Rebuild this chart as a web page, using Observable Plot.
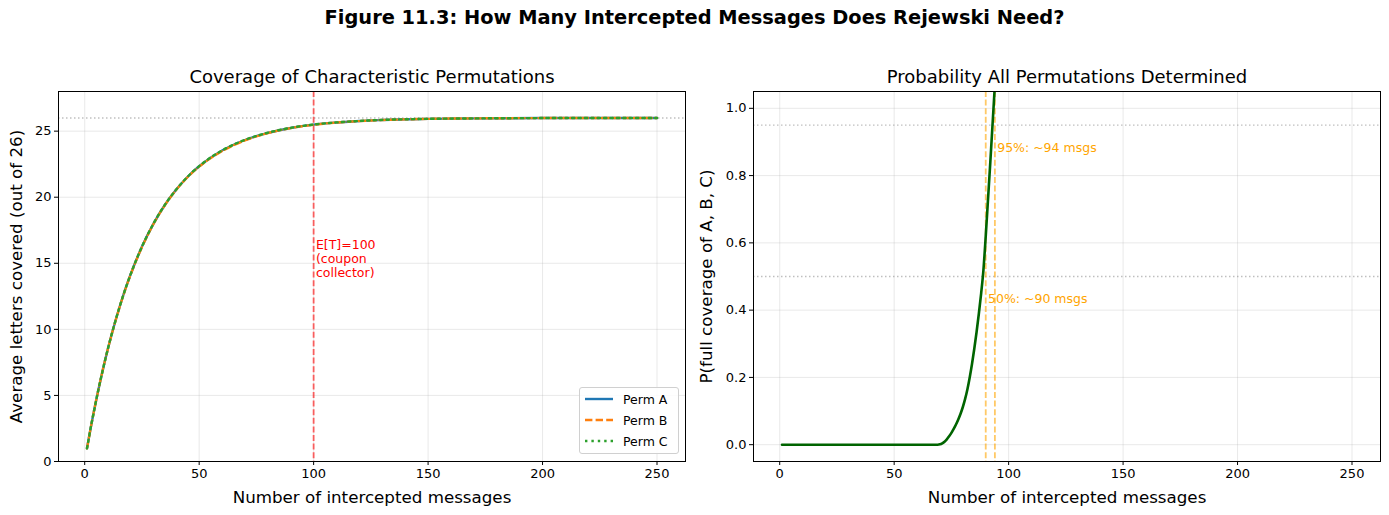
<!DOCTYPE html>
<html>
<head>
<meta charset="utf-8">
<script src="https://cdn.jsdelivr.net/npm/d3@7"></script>
<script src="https://cdn.jsdelivr.net/npm/@observablehq/plot@0.6"></script>
<style>
  html, body { margin: 0; padding: 0; background: white; }
  body { width: 1389px; height: 515px; position: relative; overflow: hidden; font-family: "DejaVu Sans", sans-serif; }
  .abs { position: absolute; }
  #suptitle { left: 0; width: 1389px; top: 6px; text-align: center; font-weight: bold; font-size: 19.4px; line-height: 24px; color: #000; z-index: 5; }
  #legend { left: 579px; top: 387px; width: 98px; height: 65px; border: 1px solid #d0d0d0; border-radius: 3px; background: rgba(255,255,255,0.85); font-size: 12.5px; z-index: 5; color: #000; }
  #legend .row { position: absolute; left: 4px; height: 16px; display: flex; align-items: center; }
  #legend .row span { margin-left: 9px; }
</style>
</head>
<body>
<div id="left" class="abs" style="left:0;top:0"></div>
<div id="right" class="abs" style="left:695px;top:0"></div>
<div id="suptitle" class="abs">Figure 11.3: How Many Intercepted Messages Does Rejewski Need?</div>
<div id="legend" class="abs"></div>
<script>
// ---- data ----
const msgs  = [1, 2, 3, 4, 5, 6, 8, 10, 12, 15, 18, 20, 25, 30, 35, 40, 45, 50, 60, 70, 80, 90, 100, 110, 120, 130, 140, 150, 175, 200, 225, 250];
const permA = [1.00, 1.96, 2.89, 3.77, 4.63, 5.45, 7.00, 8.44, 9.76, 11.56, 13.17, 14.13, 16.25, 17.98, 19.41, 20.58, 21.55, 22.34, 23.53, 24.33, 24.87, 25.24, 25.49, 25.65, 25.77, 25.84, 25.89, 25.93, 25.97, 25.99, 26.00, 26.00];
const permB = [1.00, 1.95, 2.88, 3.78, 4.62, 5.44, 7.01, 8.43, 9.75, 11.55, 13.16, 14.12, 16.22, 17.96, 19.39, 20.56, 21.53, 22.31, 23.49, 24.30, 24.85, 25.23, 25.48, 25.65, 25.76, 25.84, 25.89, 25.93, 25.97, 25.99, 26.00, 26.00];
const permC = [1.00, 1.96, 2.89, 3.77, 4.63, 5.46, 7.00, 8.45, 9.77, 11.57, 13.18, 14.14, 16.26, 17.99, 19.42, 20.59, 21.56, 22.35, 23.54, 24.34, 24.88, 25.25, 25.50, 25.66, 25.77, 25.85, 25.90, 25.93, 25.97, 25.99, 26.00, 26.00];
const permNames = ["Perm A", "Perm B", "Perm C"];

const probMsgs = [1, 10, 20, 30, 40, 50, 60, 69, 70, 71, 72, 73, 74, 75, 76, 77, 78, 79, 80, 81, 82, 83, 84, 85, 86, 87, 88, 89, 90, 91, 92, 93, 94, 95, 96];
const probAll  = [0, 0, 0, 0, 0, 0, 0, 0, 0.001, 0.004, 0.009, 0.016, 0.025, 0.035, 0.047, 0.060, 0.075, 0.092, 0.112, 0.136, 0.165, 0.200, 0.240, 0.285, 0.335, 0.390, 0.450, 0.520, 0.620, 0.730, 0.840, 0.955, 1.070, 1.190, 1.310];

const expectedT = 100;
const p50 = 90, p95 = 94;
const xTicks = [0, 50, 100, 150, 200, 250];
const yTicksLeft = [0, 5, 10, 15, 20, 25];
const yTicksRight = [0, 0.2, 0.4, 0.6, 0.8, 1.0];

// ---- build tables ----
const permSeries = [permA, permB, permC];
const coverage = permNames.flatMap((name, k) => msgs.map((n, i) => ({n, v: permSeries[k][i], perm: name})));
const prob = probMsgs.map((n, i) => ({n, p: probAll[i]}));

const gridStyle = {stroke: "#b0b0b0", strokeOpacity: 0.35, strokeWidth: 0.8};
const tickFont = 13;
const labelFont = 16.7;
const titleFont = 18;
const annFont = 12.5;
const fmt1 = d3.format(".1f");
const baseStyle = {fontFamily: "DejaVu Sans, sans-serif", fontSize: tickFont + "px", color: "#000", background: "transparent", overflow: "visible"};

// ---- left panel ----
const left = Plot.plot({
  width: 695, height: 515,
  marginLeft: 58, marginRight: 10, marginTop: 91, marginBottom: 54,
  style: baseStyle,
  x: {domain: [-11.45, 262.45]},
  y: {domain: [0, 28]},
  marks: [
    Plot.gridX(xTicks, gridStyle),
    Plot.gridY(yTicksLeft, gridStyle),
    Plot.ruleY([26], {stroke: "gray", strokeOpacity: 0.5, strokeWidth: 1.4, strokeDasharray: "1.5,2.5"}),
    Plot.ruleX([expectedT], {stroke: "red", strokeOpacity: 0.6, strokeWidth: 1.8, strokeDasharray: "6,2.6"}),
    Plot.text(["E[T]=100\n(coupon\ncollector)"], {x: expectedT + 1, y: 14, textAnchor: "start", lineAnchor: "bottom", fill: "red", fontSize: annFont, lineHeight: 1.1}),
    Plot.line(coverage.filter(d => d.perm === "Perm A"), {x: "n", y: "v", stroke: "#1f77b4", strokeWidth: 2.4, curve: "monotone-x"}),
    Plot.line(coverage.filter(d => d.perm === "Perm B"), {x: "n", y: "v", stroke: "#ff7f0e", strokeWidth: 2.4, strokeDasharray: "7.4,3.2", curve: "monotone-x"}),
    Plot.line(coverage.filter(d => d.perm === "Perm C"), {x: "n", y: "v", stroke: "#2ca02c", strokeWidth: 2.4, strokeDasharray: "2.4,4", curve: "monotone-x"}),
    Plot.axisX({ticks: xTicks, tickSize: 4, tickPadding: 3, label: null, fontSize: tickFont}),
    Plot.axisY({ticks: yTicksLeft, tickSize: 4, tickPadding: 3, label: null, fontSize: tickFont}),
    Plot.frame({stroke: "black", strokeWidth: 1}),
    Plot.text(["Number of intercepted messages"], {frameAnchor: "bottom", lineAnchor: "middle", dy: 36, fontSize: labelFont}),
    Plot.text(["Average letters covered (out of 26)"], {frameAnchor: "left", textAnchor: "middle", lineAnchor: "middle", dx: -42, rotate: -90, fontSize: labelFont}),
    Plot.text(["Coverage of Characteristic Permutations"], {frameAnchor: "top", lineAnchor: "middle", dy: -14, fontSize: titleFont})
  ]
});
document.getElementById("left").appendChild(left);

// ---- right panel ----
const right = Plot.plot({
  width: 694, height: 515,
  marginLeft: 58, marginRight: 9, marginTop: 91, marginBottom: 54,
  style: baseStyle,
  x: {domain: [-11.45, 262.45]},
  y: {domain: [-0.05, 1.05]},
  marks: [
    Plot.gridX(xTicks, gridStyle),
    Plot.gridY(yTicksRight, gridStyle),
    Plot.ruleY([0.5, 0.95], {stroke: "gray", strokeOpacity: 0.5, strokeWidth: 1.4, strokeDasharray: "1.5,2.5"}),
    Plot.ruleX([p50, p95], {stroke: "orange", strokeOpacity: 0.6, strokeWidth: 1.8, strokeDasharray: "6,2.6"}),
    Plot.line(prob, {x: "n", y: "p", stroke: "darkgreen", strokeWidth: 2.6, curve: "monotone-x", clip: true}),
    Plot.text([`95%: ~${p95} msgs`], {x: p95 + 1, y: 0.87, textAnchor: "start", lineAnchor: "bottom", fill: "orange", fontSize: annFont}),
    Plot.text([`50%: ~${p50} msgs`], {x: p50 + 1, y: 0.42, textAnchor: "start", lineAnchor: "bottom", fill: "orange", fontSize: annFont}),
    Plot.axisX({ticks: xTicks, tickSize: 4, tickPadding: 3, label: null, fontSize: tickFont}),
    Plot.axisY({ticks: yTicksRight, tickFormat: fmt1, tickSize: 4, tickPadding: 3, label: null, fontSize: tickFont}),
    Plot.frame({stroke: "black", strokeWidth: 1}),
    Plot.text(["Number of intercepted messages"], {frameAnchor: "bottom", lineAnchor: "middle", dy: 36, fontSize: labelFont}),
    Plot.text(["P(full coverage of A, B, C)"], {frameAnchor: "left", textAnchor: "middle", lineAnchor: "middle", dx: -47, rotate: -90, fontSize: labelFont}),
    Plot.text(["Probability All Permutations Determined"], {frameAnchor: "top", lineAnchor: "middle", dy: -14, fontSize: titleFont})
  ]
});
document.getElementById("right").appendChild(right);

// ---- legend (left panel) ----
const legendSpec = [
  {name: permNames[0], color: "#1f77b4", dash: null},
  {name: permNames[1], color: "#ff7f0e", dash: "7.4,3.2"},
  {name: permNames[2], color: "#2ca02c", dash: "2.4,4"}
];
const legend = document.getElementById("legend");
legendSpec.forEach((s, i) => {
  const row = document.createElement("div");
  row.className = "row";
  row.style.top = (3 + i * 21) + "px";
  row.innerHTML = `<svg width="30" height="10"><line x1="1" x2="29" y1="5" y2="5" stroke="${s.color}" stroke-width="2.4" ${s.dash ? `stroke-dasharray="${s.dash}"` : ""}/></svg><span>${s.name}</span>`;
  legend.appendChild(row);
});
</script>
</body>
</html>
